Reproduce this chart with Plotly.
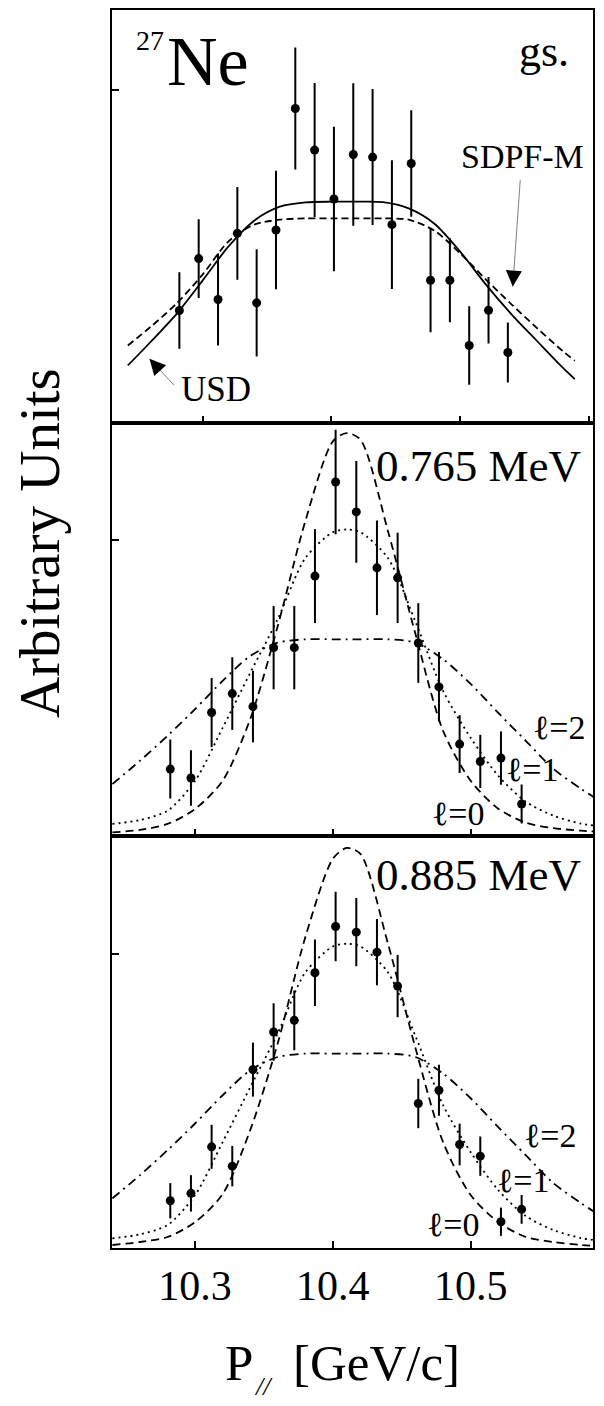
import plotly.graph_objects as go

# ---------------- data (arbitrary units) ----------------
p_data = [10.282, 10.297, 10.312, 10.327, 10.342, 10.357, 10.372, 10.387, 10.402,
          10.417, 10.432, 10.447, 10.462, 10.477, 10.492, 10.507, 10.522, 10.537]

gs_y = [0.3386, 0.4945, 0.3716, 0.5703, 0.3617, 0.5805, 0.9449, 0.8202, 0.6734,
        0.8070, 0.7992, 0.5963, 0.7800, 0.4294, 0.4294, 0.2337, 0.3395, 0.2128]
gs_err = [0.115, 0.118, 0.138, 0.139, 0.161, 0.178, 0.183, 0.201, 0.217,
          0.214, 0.204, 0.193, 0.160, 0.156, 0.126, 0.118, 0.100, 0.090]

e765_y = [0.2253, 0.1949, 0.4166, 0.4807, 0.4368, 0.6361, 0.6361, 0.8784, 1.1970,
          1.0956, 0.9064, 0.8726, 0.6520, 0.5034, 0.3098, 0.2510, 0.2625, 0.1071]
e765_err = [0.100, 0.094, 0.117, 0.123, 0.121, 0.141, 0.141, 0.159, 0.177,
            0.172, 0.160, 0.153, 0.135, 0.118, 0.098, 0.090, 0.090, 0.066]

e885_y = [0.1609, 0.1861, 0.3446, 0.2789, 0.6078, 0.7357, 0.7755, 0.9378, 1.0952,
          1.0759, 1.0078, 0.8922, 0.4922, 0.5374, 0.3527, 0.3129, 0.0895, 0.1316]
e885_err = [0.060, 0.062, 0.075, 0.069, 0.092, 0.098, 0.102, 0.113, 0.118,
            0.116, 0.113, 0.106, 0.084, 0.087, 0.071, 0.067, 0.048, 0.049]

# theory curves, top panel
p_top = [10.242, 10.26, 10.28, 10.30, 10.32, 10.34, 10.36, 10.38, 10.40, 10.42,
         10.44, 10.46, 10.48, 10.50, 10.52, 10.54, 10.56, 10.58, 10.589]
usd = [0.1738, 0.2457, 0.3296, 0.4285, 0.5304, 0.6083, 0.6503, 0.6632, 0.6653, 0.6653,
       0.6638, 0.6452, 0.5993, 0.5154, 0.4165, 0.3266, 0.2457, 0.1657, 0.1328]
sdpfm = [0.2337, 0.2907, 0.3605, 0.4465, 0.5454, 0.5963, 0.6113, 0.6152, 0.6152, 0.6152,
         0.6152, 0.6113, 0.5784, 0.5103, 0.4315, 0.3566, 0.2847, 0.2158, 0.1879]

# theory curves, excited states
p_l = [10.24, 10.26, 10.28, 10.30, 10.32, 10.34, 10.36, 10.38, 10.40, 10.41,
       10.42, 10.44, 10.46, 10.48, 10.50, 10.52, 10.54, 10.56, 10.58, 10.59]
m_l0 = [0.0111, 0.0193, 0.0395, 0.0902, 0.1858, 0.3943, 0.7095, 1.0642, 1.3345, 1.3625,
        1.3402, 1.0304, 0.6814, 0.3547, 0.1858, 0.0912, 0.0439, 0.0253, 0.0169, 0.0135]
m_l1 = [0.0395, 0.0530, 0.0845, 0.1858, 0.3649, 0.5507, 0.7331, 0.9392, 1.0270, 1.0361,
        1.0270, 0.9392, 0.7230, 0.4899, 0.3311, 0.2027, 0.1149, 0.0676, 0.0405, 0.0338]
m_l2 = [0.1747, 0.2534, 0.3378, 0.4280, 0.5236, 0.6081, 0.6530, 0.6645, 0.6645, 0.6645,
        0.6645, 0.6645, 0.6530, 0.5970, 0.5135, 0.4155, 0.3209, 0.2264, 0.1588, 0.1284]
b_l0 = [0.0102, 0.0204, 0.0374, 0.0884, 0.1837, 0.4014, 0.6973, 1.0588, 1.3255, 1.3629,
        1.3425, 1.0364, 0.6803, 0.3605, 0.1803, 0.0884, 0.0374, 0.0204, 0.0102, 0.0068]
b_l1 = [0.0330, 0.0466, 0.0782, 0.1803, 0.3605, 0.5476, 0.7313, 0.9388, 1.0272, 1.0364,
        1.0272, 0.9388, 0.7211, 0.4864, 0.3265, 0.1973, 0.1088, 0.0612, 0.0340, 0.0272]
b_l2 = [0.1690, 0.2483, 0.3333, 0.4241, 0.5204, 0.6054, 0.6507, 0.6622, 0.6622, 0.6622,
        0.6622, 0.6622, 0.6507, 0.5942, 0.5102, 0.4116, 0.3163, 0.2211, 0.1531, 0.1224]

x_ticks_top = [10.3, 10.4, 10.5, 10.6]
x_ticks = [10.3, 10.4, 10.5]
x_ticklabels = ["10.3", "10.4", "10.5"]

# ---------------- figure ----------------
FONT = "'Liberation Serif', 'Times New Roman', Times, 'DejaVu Serif', serif"
fig = go.Figure()

def pts(x, y, err, xa, ya):
    fig.add_trace(go.Scatter(
        x=x, y=y, mode="markers", xaxis=xa, yaxis=ya,
        marker=dict(color="black", size=9),
        error_y=dict(type="data", array=err, width=0, thickness=2, color="black"),
        showlegend=False))

def curve(x, y, dash, xa, ya, w=1.8):
    fig.add_trace(go.Scatter(
        x=x, y=y, mode="lines", xaxis=xa, yaxis=ya,
        line=dict(color="black", width=w, dash=dash, shape="spline", smoothing=0.8),
        showlegend=False))

# top panel
curve(p_top, usd, "solid", "x", "y")
curve(p_top, sdpfm, "7px,4px", "x", "y")
pts(p_data, gs_y, gs_err, "x", "y")
# middle
curve(p_l, m_l0, "8px,5px", "x2", "y2")
curve(p_l, m_l1, "2px,4px", "x2", "y2")
curve(p_l, m_l2, "9px,5px,2px,5px", "x2", "y2")
pts(p_data, e765_y, e765_err, "x2", "y2")
# bottom
curve(p_l, b_l0, "8px,5px", "x3", "y3")
curve(p_l, b_l1, "2px,4px", "x3", "y3")
curve(p_l, b_l2, "9px,5px,2px,5px", "x3", "y3")
pts(p_data, e885_y, e885_err, "x3", "y3")

axis_common = dict(showline=True, mirror=True, linecolor="black", linewidth=2,
                   ticks="inside", ticklen=7, tickwidth=1.5, tickcolor="black",
                   showgrid=False, zeroline=False, fixedrange=True)

d_top = [0.6661, 1.0]
d_mid = [0.3331, 0.6661]
d_bot = [0.0, 0.3331]

fig.update_layout(
    width=604, height=1406,
    margin=dict(l=112, r=11, t=8, b=158),
    paper_bgcolor="white", plot_bgcolor="white",
    font=dict(family=FONT, color="black"),
    showlegend=False,
    xaxis=dict(axis_common, domain=[0, 1], anchor="y", range=[10.2297, 10.6031],
               tickvals=x_ticks_top, showticklabels=False),
    yaxis=dict(axis_common, domain=d_top, anchor="x", range=[0, 1.2406],
               tickvals=[1.0], showticklabels=False),
    xaxis2=dict(axis_common, domain=[0, 1], anchor="y2", range=[10.2397, 10.5888],
                tickvals=x_ticks, showticklabels=False),
    yaxis2=dict(axis_common, domain=d_mid, anchor="x2", range=[0, 1.3953],
                tickvals=[1.0], showticklabels=False),
    xaxis3=dict(axis_common, domain=[0, 1], anchor="y3", range=[10.2397, 10.5888],
                tickvals=x_ticks, ticktext=x_ticklabels, showticklabels=True,
                tickfont=dict(family=FONT, size=42, color="black")),
    yaxis3=dict(axis_common, domain=d_bot, anchor="x3", range=[0, 1.4048],
                tickvals=[1.0], showticklabels=False),
)

def txt(text, x, y, size, xanchor="center", angle=0, italic=False):
    fig.add_annotation(text=text, x=x, y=y, xref="paper", yref="paper",
                       xanchor=xanchor, yanchor="middle", showarrow=False,
                       textangle=angle,
                       font=dict(family=FONT, size=size, color="black",
                                 style="italic" if italic else "normal"))

# panel labels
txt("27", 0.1123, 0.975, 28, xanchor="right")
txt("Ne", 0.1102, 0.9585, 70, xanchor="left")
txt("gs.", 0.8971, 0.9664, 44)
txt("SDPF-M", 0.8524, 0.8814, 34)
txt("USD", 0.2162, 0.6935, 35)
txt("0.765 MeV", 0.9792, 0.6317, 45, xanchor="right")
txt("0.885 MeV", 0.9792, 0.3010, 45, xanchor="right")
txt("ℓ=2", 0.9293, 0.4206, 34)
txt("ℓ=1", 0.8742, 0.3868, 34)
txt("ℓ=0", 0.7193, 0.3513, 34)
txt("ℓ=2", 0.9106, 0.0908, 34)
txt("ℓ=1", 0.8552, 0.0545, 34)
txt("ℓ=0", 0.7096, 0.0190, 34)

# axis titles
txt("Arbitrary Units", -0.1518, 0.5694, 57, angle=-90)
txt("P", 0.2308, -0.0925, 51, xanchor="left")
txt("//", 0.315, -0.1120, 26, italic=True)
txt("[GeV/c]", 0.5503, -0.0925, 51)

# arrows (top panel)
def arrow(xt, yt, ax, ay, hx, hy):
    fig.add_annotation(x=xt, y=yt, xref="x", yref="y", text="", showarrow=True,
                       ax=ax, ay=ay, arrowhead=0, arrowwidth=1, arrowcolor="#808080")
    fig.add_annotation(x=xt, y=yt, xref="x", yref="y", text="", showarrow=True,
                       ax=hx, ay=hy, arrowhead=2, arrowsize=1.6, arrowwidth=2,
                       arrowcolor="black")

arrow(10.5408, 0.4105, 7.6, -108, 1, -14)
arrow(10.2588, 0.1939, 25.7, 27.7, 9, 10)

fig.write_html("out.html")
